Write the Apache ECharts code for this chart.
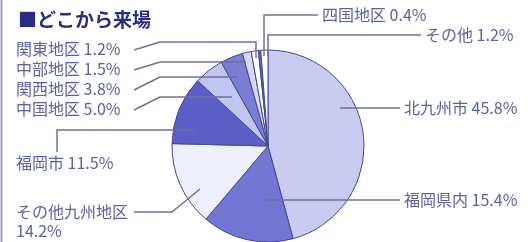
<!DOCTYPE html>
<html>
<head>
    <meta charset="utf-8">
    <script src="https://cdn.jsdelivr.net/npm/echarts@6/dist/echarts.min.js"></script>
    <style>
        html, body { margin: 0; padding: 0; background: #fff; }
    </style>
</head>
<body>
    <div id="main" style="width: 530px;height:242px;"></div>
    <script type="text/javascript">
        // 地区と割合(%)
        var categories = ['北九州市', '福岡県内', 'その他九州地区', '福岡市', '中国地区', '関西地区', '中部地区', '関東地区', '四国地区', 'その他'];
        var shares = [45.8, 15.4, 14.2, 11.5, 5.0, 3.8, 1.5, 1.2, 0.4, 1.2];
        var colors = ['#c9cbf1', '#7377d3', '#eeeffb', '#5c60c6', '#c2c5ef', '#7a7ed7', '#d6d8f5', '#ffffff', '#6468c4', '#ffffff'];

        // ラベル位置と引き出し線
        var labelPos = [
            { x: 404, y: 108, line: [[400, 108], [370, 108], [340, 108]] },
            { x: 404, y: 200, line: [[400, 200], [330, 200], [265, 200]] },
            { x: 16, y: 221, line: [[134, 212], [172, 212], [200, 189]] },
            { x: 16, y: 163, line: [[57, 152], [57, 130], [194, 130]] },
            { x: 16, y: 109, line: [[134, 110], [160, 97], [232, 97]] },
            { x: 16, y: 89, line: [[134, 90], [160, 77], [238, 77]] },
            { x: 16, y: 69, line: [[134, 70], [160, 62], [246, 62]] },
            { x: 16, y: 49, line: [[134, 50], [160, 42], [256, 42], [256, 58]] },
            { x: 322, y: 15, line: [[318, 15], [264, 15], [264, 56]] },
            { x: 425, y: 35, line: [[421, 35], [268, 35], [268, 56]] }
        ];

        var pieData = categories.map(function (name, i) {
            return { name: name, value: shares[i], itemStyle: { color: colors[i] } };
        });
        var labelData = categories.map(function (name, i) {
            return { name: name, value: shares[i] };
        });

        var option = {
            animation: false,
            textStyle: { fontFamily: '"Noto Sans CJK JP", "Noto Sans", sans-serif' },
            title: {
                text: '■どこから来場',
                left: 13,
                top: 5,
                textStyle: {
                    fontSize: 19,
                    fontWeight: 'bold',
                    color: '#2a2c82',
                    fontFamily: '"Noto Sans CJK JP", sans-serif'
                }
            },
            graphic: [{
                type: 'line',
                shape: { x1: 1.5, y1: 0, x2: 1.5, y2: 242 },
                style: { stroke: '#9a9cc4', lineWidth: 2 }
            }],
            series: [{
                // 扇形
                type: 'pie',
                z: 2,
                center: [268, 146],
                radius: 96,
                startAngle: 90,
                clockwise: true,
                silent: true,
                itemStyle: { borderColor: '#44478c', borderWidth: 1 },
                label: { show: false },
                labelLine: { show: false },
                data: pieData
            }, {
                // ラベルと引き出し線（扇形の上に描く）
                type: 'pie',
                z: 3,
                center: [268, 146],
                radius: 96,
                startAngle: 90,
                clockwise: true,
                silent: true,
                avoidLabelOverlap: false,
                itemStyle: { color: 'rgba(0,0,0,0)', borderWidth: 0 },
                label: {
                    show: true,
                    position: 'outside',
                    color: '#5d61a2',
                    fontSize: 16,
                    lineHeight: 19,
                    formatter: function (p) {
                        var v = p.value.toFixed(1) + '%';
                        return p.name === 'その他九州地区' ? p.name + '\n' + v : p.name + ' ' + v;
                    }
                },
                labelLine: {
                    show: true,
                    lineStyle: { color: '#6e7199', width: 1.5 }
                },
                labelLayout: function (params) {
                    var L = labelPos[params.dataIndex];
                    return {
                        x: L.x,
                        y: L.y,
                        align: 'left',
                        verticalAlign: 'middle',
                        labelLinePoints: L.line
                    };
                },
                data: labelData
            }]
        };

        var myChart = echarts.init(document.getElementById('main'));
        myChart.setOption(option);
    </script>
</body>
</html>
